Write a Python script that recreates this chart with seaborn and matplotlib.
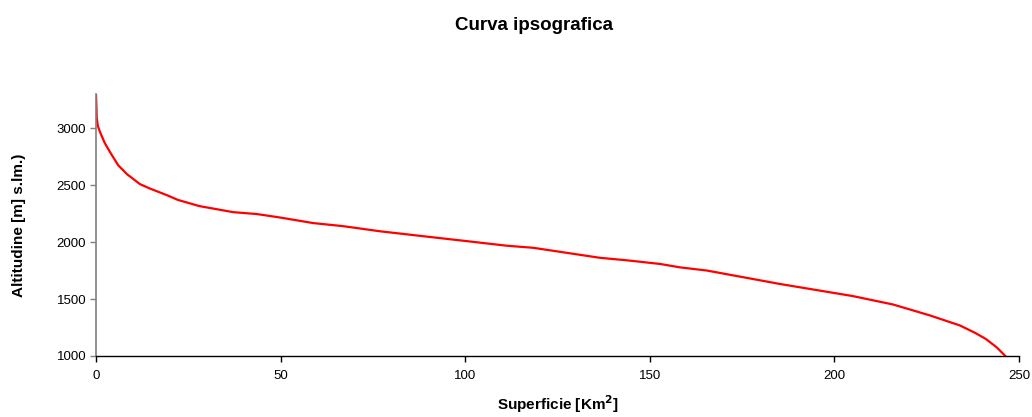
import matplotlib
matplotlib.use("Agg")
import matplotlib.pyplot as plt
import seaborn as sns
import pandas as pd

superficie = [0.0, 0.1, 0.2, 0.5, 1.1, 2.4, 3.8, 6.0, 8.4, 11.9, 14.6, 19.2, 22.2, 28.0, 37.1, 43.6,
              50.0, 58.8, 66.9, 76.9, 89.6, 100.0, 111.3, 118.4, 136.5, 143.8, 152.8, 158.2, 165.5,
              185.3, 205.0, 215.9, 225.9, 234.0, 238.0, 241.0, 244.0, 246.3]
altitudine = [3300, 3200, 3090, 3020, 2965, 2868, 2790, 2675, 2596, 2509, 2470, 2412, 2370, 2316, 2263,
              2246, 2215, 2167, 2140, 2095, 2048, 2010, 1968, 1950, 1862, 1840, 1808, 1778, 1750,
              1632, 1526, 1452, 1356, 1268, 1205, 1150, 1075, 1000]

df = pd.DataFrame({"Superficie": superficie, "Altitudine": altitudine})

sns.set_style("white")
plt.rcParams['font.family'] = ['Liberation Sans', 'DejaVu Sans']
plt.rcParams['text.color'] = 'black'
plt.rcParams['axes.labelcolor'] = 'black'
plt.rcParams['xtick.color'] = 'black'
plt.rcParams['ytick.color'] = 'black'

fig = plt.figure(figsize=(10.32, 4.17), dpi=100)
ax = fig.add_axes([96/1032, 1 - 356/417, (1019 - 96)/1032, (356 - 94)/417])

sns.lineplot(data=df, x="Superficie", y="Altitudine", ax=ax, color="#ff0000",
             linewidth=1.6, sort=False, estimator=None)

ax.set_xlim(0, 250)
ax.set_ylim(1000, 3300)
ax.set_xticks([0, 50, 100, 150, 200, 250])
ax.set_yticks([1000, 1500, 2000, 2500, 3000])

for s in ["top", "right"]:
    ax.spines[s].set_visible(False)
ax.spines["left"].set_color("#808080")
ax.spines["left"].set_linewidth(1.2)
ax.spines["bottom"].set_color("black")
ax.spines["bottom"].set_linewidth(1.0)

ax.tick_params(axis="x", direction="out", length=4, width=1, color="black",
               labelcolor="black", labelsize=9.5, pad=6)
ax.tick_params(axis="y", direction="out", length=4, width=1, color="#808080",
               labelcolor="black", labelsize=9.5, pad=3)
ax.tick_params(bottom=True, left=True)

ax.set_xlabel("Superficie [Km$^\\mathbf{2}$]", fontsize=11, fontweight="bold", labelpad=8)
ax.set_ylabel("Altitudine [m] s.lm.)", fontsize=11, fontweight="bold", labelpad=22)

fig.text(534/1032, 1 - 25/417, "Curva ipsografica", ha="center", va="center",
         fontsize=13.5, fontweight="bold")

fig.savefig("out.png", dpi=100, facecolor="white")
